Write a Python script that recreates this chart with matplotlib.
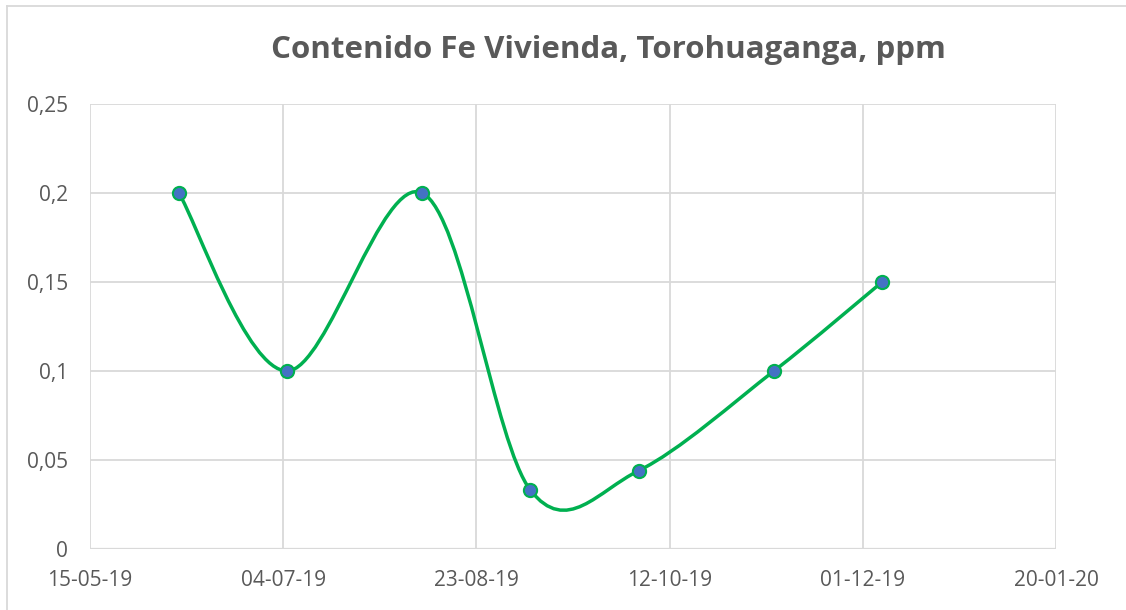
import matplotlib
matplotlib.use("Agg")
import matplotlib.pyplot as plt
import matplotlib.dates as mdates
from matplotlib.path import Path
from matplotlib.patches import PathPatch
from matplotlib.lines import Line2D
import numpy as np
import datetime as dt

# data
fechas = ["07-06-19", "05-07-19", "09-08-19", "06-09-19", "04-10-19", "08-11-19", "06-12-19"]
fe_ppm = [0.2, 0.1, 0.2, 0.033, 0.044, 0.1, 0.15]
x_ticks = ["15-05-19", "04-07-19", "23-08-19", "12-10-19", "01-12-19", "20-01-20"]
y_ticks = [0, 0.05, 0.1, 0.15, 0.2, 0.25]
y_labels = ["0", "0,05", "0,1", "0,15", "0,2", "0,25"]

GRAY_TXT = "#595959"
GRID = "#d9d9d9"
GREEN = "#00b050"
BLUE = "#4472c4"

plt.rcParams['font.family'] = ['Open Sans', 'DejaVu Sans']


def to_num(s):
    return mdates.date2num(dt.datetime.strptime(s, "%d-%m-%y"))


def smooth_path(xs, ys):
    """Excel-like smoothed line: cubic bezier with catmull-rom tangents / 6"""
    pts = np.column_stack([xs, ys])
    n = len(pts)
    verts = [pts[0]]
    codes = [Path.MOVETO]
    for i in range(n - 1):
        p0 = pts[i - 1] if i > 0 else pts[i]
        p1 = pts[i]
        p2 = pts[i + 1]
        p3 = pts[i + 2] if i + 2 < n else pts[i + 1]
        c1 = p1 + (p2 - p0) / 6.0
        c2 = p2 - (p3 - p1) / 6.0
        verts += [c1, c2, p2]
        codes += [Path.CURVE4] * 3
    return Path(verts, codes)


xs = np.array([to_num(f) for f in fechas])
ys = np.array(fe_ppm)
xt = [to_num(t) for t in x_ticks]

fig = plt.figure(figsize=(11.26, 6.10), dpi=100)
ax = fig.add_axes([90 / 1126, 61 / 610, 966 / 1126, 445 / 610])

ax.set_xlim(xt[0], xt[-1])
ax.set_ylim(0, 0.25)
ax.set_xticks(xt)
ax.set_xticklabels(x_ticks)
ax.set_yticks(y_ticks)
ax.set_yticklabels(y_labels)
ax.tick_params(length=0, labelsize=15, colors=GRAY_TXT)
ax.tick_params(axis='x', pad=15)
ax.tick_params(axis='y', pad=16)
ax.grid(True, color=GRID, linewidth=1.3)
ax.set_axisbelow(True)
for sp in ax.spines.values():
    sp.set_visible(False)
ax.axhline(0, color=GRID, linewidth=1.6, zorder=1)

patch = PathPatch(smooth_path(xs, ys), facecolor='none', edgecolor=GREEN,
                  linewidth=2.5, capstyle='round', zorder=3)
ax.add_patch(patch)
ax.plot(xs, ys, linestyle='none', marker='o', markersize=9.5,
        markerfacecolor=BLUE, markeredgecolor=GREEN, markeredgewidth=1.5, zorder=4)

fig.text(608 / 1126, 1 - 50 / 610, "Contenido Fe Vivienda, Torohuaganga, ppm",
         ha='center', va='center', fontsize=22.5, fontweight='bold', color=GRAY_TXT)

# chart area frame (left and top edges visible)
fig.add_artist(Line2D([7 / 1126, 7 / 1126], [0, 1 - 6 / 610], color=GRID, linewidth=1.3))
fig.add_artist(Line2D([7 / 1126, 1], [1 - 6 / 610, 1 - 6 / 610], color=GRID, linewidth=1.3))

fig.savefig("out.png", dpi=100)
